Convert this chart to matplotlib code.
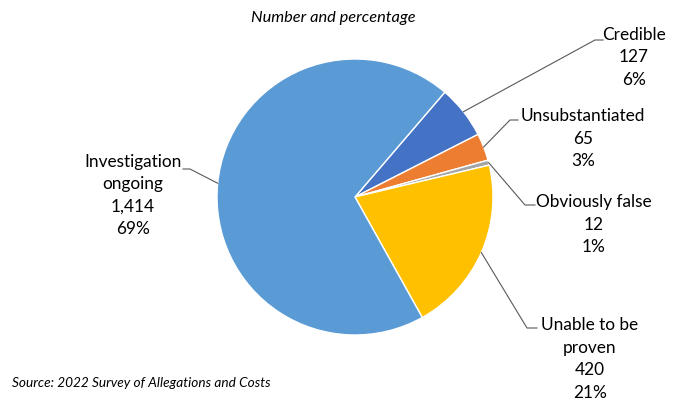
import numpy as np
import matplotlib.pyplot as plt

categorias = ['Credible', 'Unsubstantiated', 'Obviously false', 'Unable to be\nproven', 'Investigation\nongoing']
valores = [127, 65, 12, 420, 1414]
colores = ['#4472C4', '#ED7D31', '#A5A5A5', '#FFC000', '#5B9BD5']

total = sum(valores)
etiquetas = [f"{c}\n{v:,}\n{round(v / total * 100)}%" for c, v in zip(categorias, valores)]

# posiciones en pixeles (y hacia arriba): codo de la linea, fin horizontal, texto
codos = [(595, 360), (510, 280), (525, 195), (527, 72), (190, 231)]
finales = [(603, 360), (518, 280), (535, 195), (537, 72), (183, 231)]
textos = [(634, 373), (583, 292), (594, 206), (590, 83), (133, 246)]

fig = plt.figure(figsize=(6.81, 4.0), dpi=100)
ax = fig.add_axes([0, 0, 1, 1])

centro = (355, 203)
radio = 138
start = 49.4
wedges, _ = ax.pie(valores, colors=colores, startangle=start, counterclock=False,
                   center=centro, radius=radio, frame=True,
                   wedgeprops=dict(edgecolor='white', linewidth=1))
ax.set_xlim(0, 681)
ax.set_ylim(0, 400)
ax.set_aspect('equal')
ax.axis('off')

fuente = 'Lato'
for w, et, c, f, t in zip(wedges, etiquetas, codos, finales, textos):
    ang = np.deg2rad((w.theta1 + w.theta2) / 2)
    x0 = centro[0] + radio * np.cos(ang)
    y0 = centro[1] + radio * np.sin(ang)
    ax.plot([x0, c[0], f[0]], [y0, c[1], f[1]], color='#595959', linewidth=0.8)
    ax.text(t[0], t[1], et, ha='center', va='top', fontsize=12.4, family=fuente,
            linespacing=1.5, color='black')

ax.text(333, 382, 'Number and percentage', ha='center', va='center', fontsize=11.8,
        style='italic', family=fuente)
ax.text(12, 17, 'Source: 2022 Survey of Allegations and Costs', ha='left', va='center',
        fontsize=9.8, style='italic', family=fuente)

fig.savefig('out.png', dpi=100)
